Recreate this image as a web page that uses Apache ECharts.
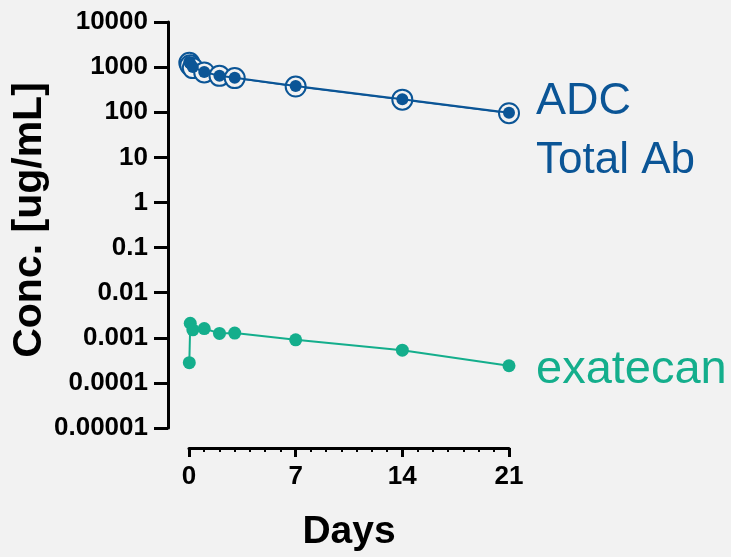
<!DOCTYPE html>
<html>
<head>
<meta charset="utf-8">
<script src="https://cdn.jsdelivr.net/npm/echarts@6/dist/echarts.min.js"></script>
<style>
  html, body { margin: 0; padding: 0; background: #f2f2f2; }
  #chart { width: 731px; height: 557px; }
</style>
</head>
<body>
<div id="chart"></div>
<script>
// Sampling times (days)
const days = [0.02, 0.083, 0.25, 1, 2, 3, 7, 14, 21];
// Concentrations, ug/mL
const adc = [1300, 1200, 1000, 780, 640, 580, 380, 195, 97];
const totalAb = [1250, 1100, 950, 760, 640, 570, 370, 190, 95];
const exatecan = [0.00028, 0.0021, 0.0015, 0.0016, 0.00125, 0.00127, 0.0009, 0.00053, 0.00024];
// Log-axis tick labels, from 1e-5 up to 1e4
const yTickLabels = ['0.00001', '0.0001', '0.001', '0.01', '0.1', '1', '10', '100', '1000', '10000'];
const xTicks = [0, 7, 14, 21];

const blue = '#0b5596';
const teal = '#14ae8c';
const font = '"Liberation Sans", Arial, sans-serif';

const pairs = (xs, ys) => xs.map((x, i) => [x, ys[i]]);

const chart = echarts.init(document.getElementById('chart'));
chart.setOption({
  backgroundColor: '#f2f2f2',
  animation: false,
  grid: { left: 189, right: 222, top: 22, bottom: 125 },
  xAxis: {
    type: 'value', min: 0, max: 21, interval: 7, offset: 20,
    name: 'Days', nameLocation: 'middle', nameGap: 65,
    nameTextStyle: { fontFamily: font, fontWeight: 'bold', fontSize: 39, color: '#000' },
    axisLine: { onZero: false, lineStyle: { color: '#000', width: 3 } },
    axisTick: { length: 9, lineStyle: { color: '#000', width: 3 } },
    minorTick: { show: true, splitNumber: 7, length: 4, lineStyle: { color: '#000', width: 2 } },
    axisLabel: {
      margin: 16, fontFamily: font, fontWeight: 'bold', fontSize: 26, color: '#000',
      formatter: v => xTicks.includes(v) ? String(v) : ''
    },
    splitLine: { show: false }
  },
  yAxis: {
    type: 'log', logBase: 10, min: 1e-5, max: 1e4, offset: 21,
    name: 'Conc. [ug/mL]', nameLocation: 'middle', nameGap: 105,
    nameTextStyle: { fontFamily: font, fontWeight: 'bold', fontSize: 41, color: '#000', padding: [0, 0, 0, 10] },
    axisLine: { show: true, onZero: false, lineStyle: { color: '#000', width: 3 } },
    axisTick: { show: true, length: 14, lineStyle: { color: '#000', width: 3 } },
    axisLabel: {
      margin: 20, fontFamily: font, fontWeight: 'bold', fontSize: 26, color: '#000',
      formatter: v => yTickLabels[Math.round(Math.log10(v)) + 5]
    },
    splitLine: { show: false }
  },
  series: [
    {
      name: 'Total Ab', type: 'line', z: 2,
      data: pairs(days, totalAb),
      symbol: 'circle', symbolSize: 20,
      itemStyle: { color: '#f2f2f2', borderColor: blue, borderWidth: 2 },
      lineStyle: { color: blue, width: 1.5 }
    },
    {
      name: 'ADC', type: 'line', z: 3,
      data: pairs(days, adc),
      symbol: 'circle', symbolSize: 12,
      itemStyle: { color: blue },
      lineStyle: { color: blue, width: 2 }
    },
    {
      name: 'exatecan', type: 'line', z: 3,
      data: pairs(days, exatecan),
      symbol: 'circle', symbolSize: 13,
      itemStyle: { color: teal },
      lineStyle: { color: teal, width: 2 }
    }
  ],
  graphic: [
    { type: 'text', left: 536, top: 79, style: { text: 'ADC', fontFamily: font, fontSize: 45, fill: blue } },
    { type: 'text', left: 536, top: 139, style: { text: 'Total Ab', fontFamily: font, fontSize: 44, fill: blue } },
    { type: 'text', left: 536, top: 347, style: { text: 'exatecan', fontFamily: font, fontSize: 47, fill: teal } }
  ]
});
</script>
</body>
</html>
